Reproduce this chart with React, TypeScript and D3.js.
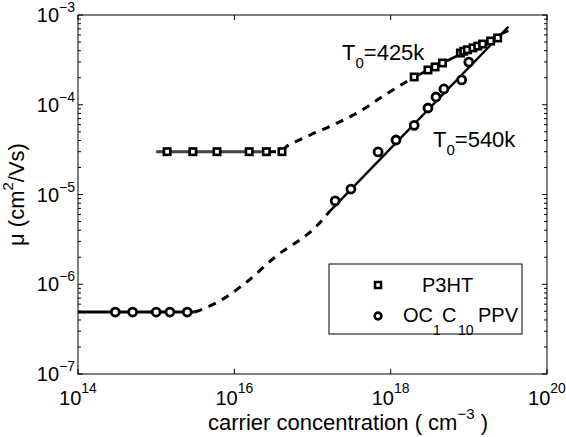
import * as d3 from 'd3';

const WIDTH = 566;
const HEIGHT = 437;
const MARGIN = { top: 15, right: 19, bottom: 63, left: 78 };
const FONT = '"Liberation Sans", Arial, Helvetica, sans-serif';

// tick positions (decades)
const xTickExps = [14, 16, 18, 20];
const yTickExps = [-3, -4, -5, -6, -7];

// measured points [carrier concentration cm^-3, mobility cm^2/Vs]
const p3htPoints: [number, number][] = [
  [1.38e15, 3e-5], [2.95e15, 3e-5], [6.0e15, 3e-5], [1.55e16, 3e-5], [2.57e16, 3e-5], [4.07e16, 3e-5],
  [2.0e18, 2.04e-4], [3.0e18, 2.44e-4], [3.7e18, 2.64e-4], [4.6e18, 2.92e-4],
  [7.8e18, 3.77e-4], [8.6e18, 3.95e-4], [9.6e18, 4.1e-4], [1.13e19, 4.3e-4], [1.3e19, 4.5e-4],
  [1.5e19, 4.75e-4], [1.9e19, 5.13e-4], [2.34e19, 5.55e-4],
];

const ppvPoints: [number, number][] = [
  [3e14, 4.9e-7], [5e14, 4.9e-7], [1e15, 4.9e-7], [1.5e15, 4.9e-7], [2.5e15, 4.9e-7],
  [1.95e17, 8.5e-6], [3.1e17, 1.15e-5], [6.9e17, 2.98e-5], [1.17e18, 4.05e-5], [2.0e18, 5.9e-5],
  [3.0e18, 9.2e-5], [3.8e18, 1.22e-4], [4.8e18, 1.5e-4], [8.1e18, 1.89e-4], [1.0e19, 2.99e-4],
];

// model curves
const p3htFlat: [number, number][] = [[1e15, 3e-5], [2.9e16, 3e-5]];
const p3htDashed: [number, number][] = [
  [2.7e16, 3.0e-5], [3.9e16, 3.0e-5], [4.7e16, 3.45e-5], [6.0e16, 3.85e-5], [9.3e16, 4.6e-5],
  [1.95e17, 6.1e-5], [4.1e17, 8.5e-5], [8.5e17, 1.29e-4], [2.0e18, 2.04e-4],
];
const p3htFit: [number, number][] = [[2.0e18, 2.04e-4], [3.2e19, 6.7e-4]];

const ppvFlat: [number, number][] = [[1e14, 4.9e-7], [3.1e15, 4.9e-7]];
const ppvDashed: [number, number][] = [
  [3.1e15, 4.9e-7], [4.2e15, 5.4e-7], [6.9e15, 6.7e-7], [1.38e16, 1.03e-6],
  [3.3e16, 2.0e-6], [1.17e17, 4.6e-6], [1.66e17, 6.5e-6],
];
const ppvFit: [number, number][] = [[1.66e17, 6.5e-6], [3.2e19, 7.4e-4]];

export default function App() {
  const boundsWidth = WIDTH - MARGIN.left - MARGIN.right;
  const boundsHeight = HEIGHT - MARGIN.top - MARGIN.bottom;

  const xScale = d3.scaleLog().domain([1e14, 1e20]).range([0, boundsWidth]);
  const yScale = d3.scaleLog().domain([1e-7, 1e-3]).range([boundsHeight, 0]);

  const line = d3.line<[number, number]>()
    .x((d) => xScale(d[0]))
    .y((d) => yScale(d[1]));
  const curve = d3.line<[number, number]>()
    .x((d) => xScale(d[0]))
    .y((d) => yScale(d[1]))
    .curve(d3.curveMonotoneX);

  // minor y ticks 2..9 in each decade
  const yMinor: number[] = [];
  for (let e = -7; e < -3; e++) {
    for (let k = 2; k <= 9; k++) yMinor.push(k * Math.pow(10, e));
  }

  const lx = 329 - MARGIN.left; // legend origin inside plot group
  const ly = 264 - MARGIN.top;

  return (
    <div style={{ position: 'absolute', left: 0, top: 0 }}>
      <svg width={WIDTH} height={HEIGHT} style={{ display: 'block', background: '#fff', fontFamily: FONT }}>
        <g transform={`translate(${MARGIN.left}, ${MARGIN.top})`}>
          {/* frame */}
          <rect x={0} y={0} width={boundsWidth} height={boundsHeight} fill="none" stroke="#000" strokeWidth={1} />

          {/* y ticks */}
          {yTickExps.map((e) => {
            const y = yScale(Math.pow(10, e));
            return (
              <g key={e}>
                <line x1={0} x2={5} y1={y} y2={y} stroke="#000" />
                <line x1={boundsWidth} x2={boundsWidth - 5} y1={y} y2={y} stroke="#000" />
                <text x={-3} y={y + 7} textAnchor="end" fontSize={20} fill="#000">
                  10<tspan fontSize={14} dy={-10}>{`\u2212${-e}`}</tspan>
                </text>
              </g>
            );
          })}
          {yMinor.map((v, i) => {
            const y = yScale(v);
            return (
              <g key={i}>
                <line x1={0} x2={3} y1={y} y2={y} stroke="#000" />
                <line x1={boundsWidth} x2={boundsWidth - 3} y1={y} y2={y} stroke="#000" />
              </g>
            );
          })}

          {/* x ticks */}
          {xTickExps.map((e) => {
            const x = xScale(Math.pow(10, e));
            return (
              <g key={e}>
                <line x1={x} x2={x} y1={boundsHeight} y2={boundsHeight - 5} stroke="#000" />
                <line x1={x} x2={x} y1={0} y2={5} stroke="#000" />
                <text x={x} y={boundsHeight + 31} textAnchor="middle" fontSize={20} fill="#000">
                  10<tspan fontSize={14} dy={-12}>{e}</tspan>
                </text>
              </g>
            );
          })}

          {/* curves */}
          <path d={line(p3htFlat) ?? ''} fill="none" stroke="#404040" strokeWidth={3} />
          <path d={curve(p3htDashed) ?? ''} fill="none" stroke="#000" strokeWidth={3} strokeDasharray="8,7" />
          <path d={line(p3htFit) ?? ''} fill="none" stroke="#000" strokeWidth={2.6} />

          <path d={line(ppvFlat) ?? ''} fill="none" stroke="#000" strokeWidth={3} />
          <path d={curve(ppvDashed) ?? ''} fill="none" stroke="#000" strokeWidth={3} strokeDasharray="8,7" />
          <path d={line(ppvFit) ?? ''} fill="none" stroke="#000" strokeWidth={2.4} />

          {/* markers */}
          {p3htPoints.map((d, i) => (
            <rect
              key={`s${i}`}
              x={xScale(d[0]) - 3.2}
              y={yScale(d[1]) - 3.2}
              width={6.4}
              height={6.4}
              fill="#fff"
              stroke="#000"
              strokeWidth={2.6}
            />
          ))}
          {ppvPoints.map((d, i) => (
            <circle key={`c${i}`} cx={xScale(d[0])} cy={yScale(d[1])} r={4} fill="#fff" stroke="#000" strokeWidth={2.8} />
          ))}

          {/* annotations */}
          <text x={264} y={45} fontSize={22} fill="#000">
            T<tspan fontSize={15} dy={8}>0</tspan><tspan dy={-8}>=425k</tspan>
          </text>
          <text x={355} y={132} fontSize={22} fill="#000">
            T<tspan fontSize={15} dy={8}>0</tspan><tspan dy={-8}>=540k</tspan>
          </text>

          {/* legend */}
          <rect x={lx} y={ly} width={193} height={70} fill="#fff" stroke="#000" strokeWidth={1} />
          <rect x={lx + 46} y={ly + 18} width={6} height={6} fill="#fff" stroke="#000" strokeWidth={2.5} />
          <text x={lx + 93} y={ly + 28} fontSize={20} fill="#000">P3HT</text>
          <circle cx={lx + 49} cy={ly + 52} r={3.4} fill="#fff" stroke="#000" strokeWidth={2.6} />
          <text y={ly + 58} fontSize={20} fill="#000">
            <tspan x={lx + 74}>OC</tspan>
            <tspan x={lx + 104} dy={13} fontSize={14}>1</tspan>
            <tspan x={lx + 113} dy={-13}>C</tspan>
            <tspan x={lx + 129} dy={13} fontSize={14}>10</tspan>
            <tspan x={lx + 149} dy={-13}>PPV</tspan>
          </text>
        </g>

        {/* axis labels */}
        <text x={208} y={430} fontSize={22} fill="#000">
          carrier concentration ( cm<tspan fontSize={15} dy={-11}>{'\u22123'}</tspan><tspan dy={11}> )</tspan>
        </text>
        <text
          transform={`translate(24, ${MARGIN.top + boundsHeight / 2}) rotate(-90)`}
          textAnchor="middle"
          fontSize={22}
          fill="#000"
        >
          μ (cm<tspan fontSize={15} dy={-11}>2</tspan><tspan dy={11}>/Vs)</tspan>
        </text>
      </svg>
    </div>
  );
}
